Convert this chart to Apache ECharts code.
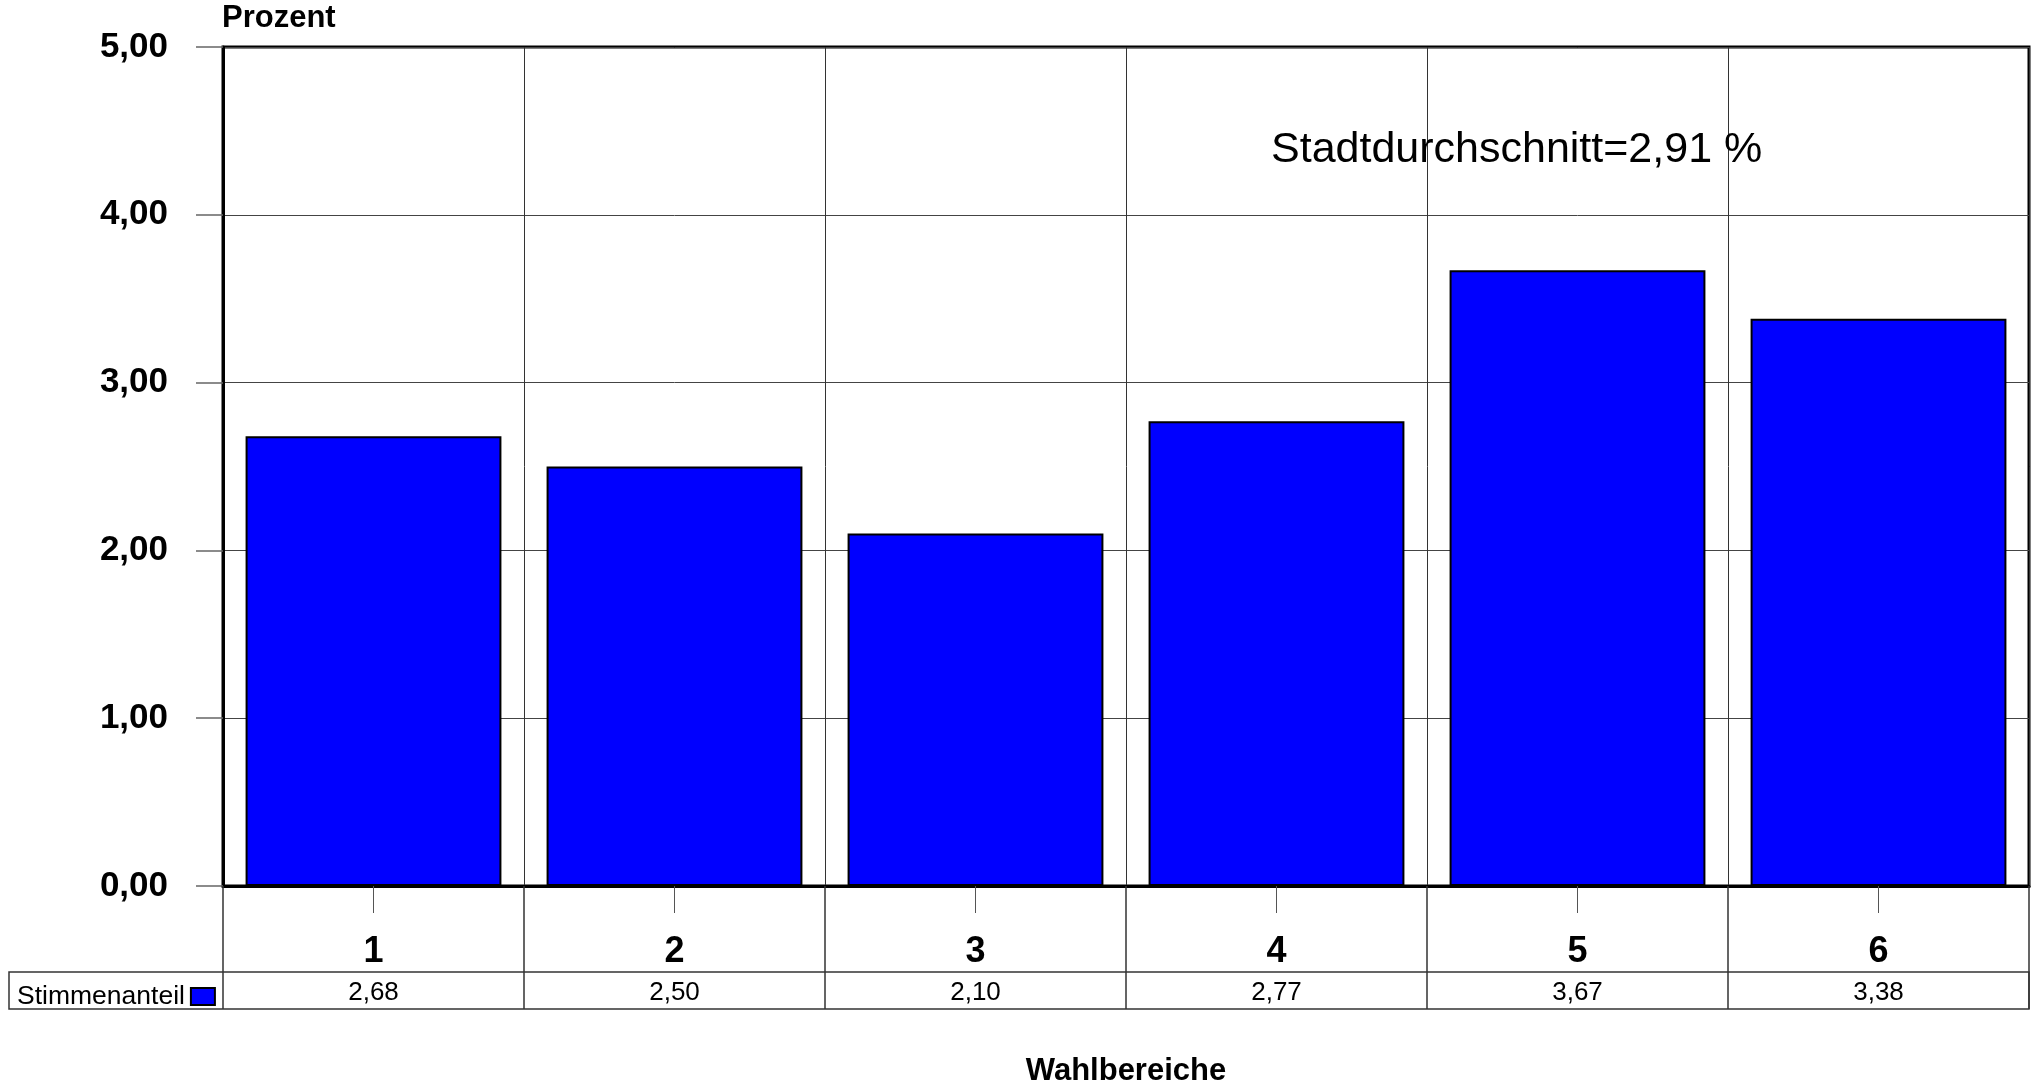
<!DOCTYPE html>
<html>
<head>
<meta charset="utf-8">
<script src="https://cdn.jsdelivr.net/npm/echarts@6/dist/echarts.min.js"></script>
<style>
html,body{margin:0;padding:0;background:#fff;}
#chart{width:2033px;height:1087px;}
</style>
</head>
<body>
<div id="chart"></div>
<script>
const categories = ['1', '2', '3', '4', '5', '6'];
const stimmenanteil = [2.68, 2.50, 2.10, 2.77, 3.67, 3.38];
const yTicks = [0, 1, 2, 3, 4, 5];
const seriesName = 'Stimmenanteil';
const yAxisTitle = 'Prozent';
const xAxisTitle = 'Wahlbereiche';
const averageNote = 'Stadtdurchschnitt=2,91 %';

const fmt = v => v.toFixed(2).replace('.', ',');
const FONT = "Arial, 'Liberation Sans', sans-serif";

const chart = echarts.init(document.getElementById('chart'), null, {renderer: 'canvas'});
chart.setOption({
  animation: false,
  backgroundColor: '#fff',
  textStyle: {fontFamily: FONT, color: '#000'},
  grid: {left: 223, right: 4, top: 47, bottom: 201, show: true, borderColor: '#000', borderWidth: 3, backgroundColor: 'transparent'},
  title: [
    {text: yAxisTitle, left: 222, top: 3, padding: 0, textStyle: {fontFamily: FONT, fontSize: 31, fontWeight: 'bold', color: '#000'}},
    {text: xAxisTitle, left: 1126, textAlign: 'center', top: 1056, padding: 0, textStyle: {fontFamily: FONT, fontSize: 31, fontWeight: 'bold', color: '#000'}}
  ],
  legend: {
    show: true, left: 12, top: 978, align: 'right', itemWidth: 24, itemHeight: 17, itemGap: 0,
    textStyle: {fontFamily: FONT, fontSize: 26.5, color: '#000', padding: [0, 1, 0, 0]},
    data: [{name: seriesName, icon: 'rect'}]
  },
  graphic: [
    {type: 'rect', shape: {x: 9, y: 972, width: 2020, height: 37}, style: {fill: 'none', stroke: '#333', lineWidth: 1.5}, silent: true, z: 50},
    {type: 'text', left: 1271, top: 129, style: {text: averageNote, font: "43px Arial, 'Liberation Sans', sans-serif", fill: '#000'}, z: 60}
  ],
  xAxis: [
    {
      type: 'category', data: categories, position: 'bottom', gridIndex: 0,
      axisLine: {show: true, lineStyle: {color: '#000', width: 3}},
      axisTick: {show: true, alignWithLabel: true, length: 27, lineStyle: {color: '#555', width: 1}},
      axisLabel: {margin: 48, fontFamily: FONT, fontSize: 36, fontWeight: 'bold', color: '#000'},
      splitLine: {show: true, lineStyle: {color: '#333', width: 1}}
    },
    {
      type: 'category', data: stimmenanteil.map(fmt), position: 'bottom', gridIndex: 0,
      axisLine: {show: false},
      axisTick: {show: true, alignWithLabel: false, length: 123, lineStyle: {color: '#333', width: 1.5}},
      axisLabel: {margin: 94, fontFamily: FONT, fontSize: 26, color: '#000'},
      splitLine: {show: false}
    }
  ],
  yAxis: {
    type: 'value', min: yTicks[0], max: yTicks[yTicks.length - 1], interval: 1,
    axisLine: {show: true, lineStyle: {color: '#000', width: 3}},
    axisTick: {show: true, length: 27, lineStyle: {color: '#666', width: 1.5}},
    axisLabel: {margin: 55, formatter: fmt, fontFamily: FONT, fontSize: 35, fontWeight: 'bold', color: '#000'},
    splitLine: {show: true, lineStyle: {color: '#444', width: 1}}
  },
  series: [{
    name: seriesName, type: 'bar', xAxisIndex: 0, data: stimmenanteil,
    barCategoryGap: '15%',
    itemStyle: {color: '#0000FF', borderColor: '#000', borderWidth: 2},
    z: 5
  }]
});
</script>
</body>
</html>
